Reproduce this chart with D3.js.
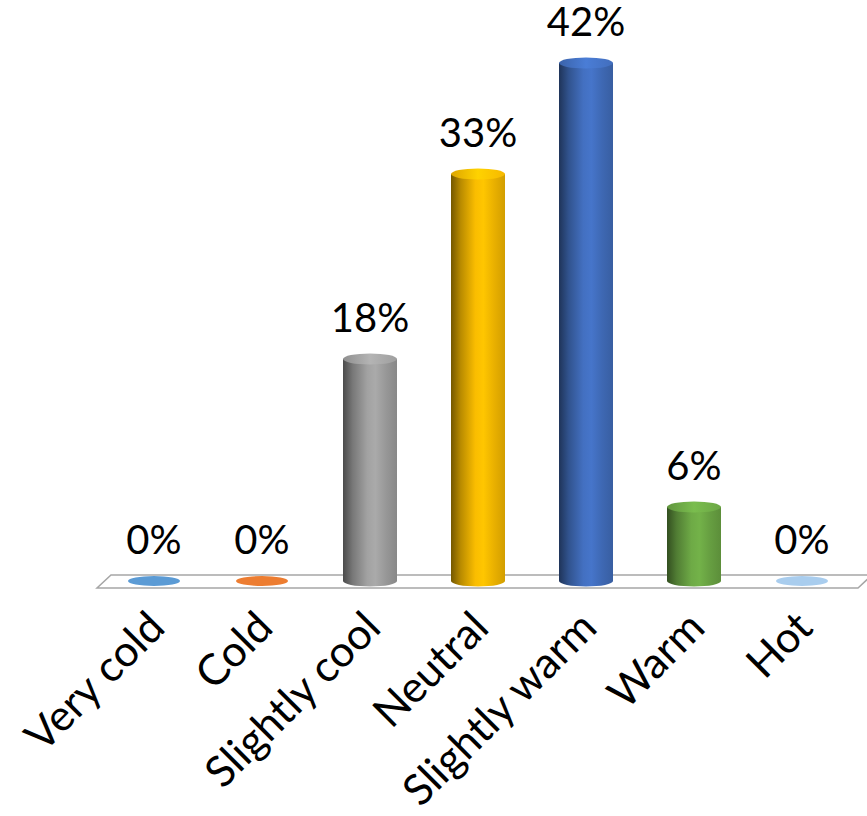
<!DOCTYPE html>
<html>
<head>
<meta charset="utf-8">
<script src="https://cdn.jsdelivr.net/npm/d3@7"></script>
<style>
  html, body { margin: 0; padding: 0; background: #fff; }
  svg { display: block; }
  text { font-family: Lato, "Open Sans", sans-serif; fill: #000; }
</style>
</head>
<body>
<svg id="chart" width="867" height="816"></svg>
<script>
// Thermal sensation votes (% of respondents)
const categories = ["Very cold", "Cold", "Slightly cool", "Neutral", "Slightly warm", "Warm", "Hot"];
const values = [0, 0, 18, 33, 42, 6, 0];
const colors = ["#5b9bd5", "#ed7d31", "#a5a5a5", "#ffc000", "#4472c4", "#70ad47", "#a9cdee"];

const svg = d3.select("#chart");

const x = d3.scalePoint().domain(categories).range([100, 856]).padding(0.5);
const y = d3.scaleLinear().domain([0, 45]).range([581, 26]);

const rx = 27, ry = 5.5;
const base = y(0);

// Floor plane
const floorTop = base - 6, floorBot = base + 7;
svg.append("path")
  .attr("d", `M97,${floorBot} L858,${floorBot} L872,${floorTop} L111,${floorTop} Z`)
  .attr("fill", "#fff")
  .attr("stroke", "#a6a6a6")
  .attr("stroke-width", 1.5);

// Cylinder shading gradients
const defs = svg.append("defs");
colors.forEach((c, i) => {
  const col = d3.color(c);
  const side = defs.append("linearGradient").attr("id", "side" + i)
    .attr("x1", 0).attr("x2", 1).attr("y1", 0).attr("y2", 0);
  [[0, col.darker(2.2)], [0.18, col.darker(0.9)], [0.45, col.darker(0.05)],
   [0.6, col.brighter(0.08)], [0.8, col.darker(0.25)], [1, col.darker(0.55)]]
    .forEach(([o, cc]) => side.append("stop").attr("offset", o).attr("stop-color", cc.formatHex()));
  const top = defs.append("linearGradient").attr("id", "top" + i)
    .attr("x1", 0).attr("x2", 1).attr("y1", 0).attr("y2", 0);
  [[0, col.darker(0.4)], [0.5, col.brighter(0.25)], [1, col.darker(0.1)]]
    .forEach(([o, cc]) => top.append("stop").attr("offset", o).attr("stop-color", cc.formatHex()));
});

const data = categories.map((c, i) => ({ cat: c, v: values[i], i }));

const bars = svg.append("g").selectAll("g").data(data).join("g");

// Cylinder bodies
bars.filter(d => d.v > 0).append("path")
  .attr("d", d => {
    const cx = x(d.cat), t = y(d.v);
    return `M${cx - rx},${t} L${cx - rx},${base} A${rx},${ry} 0 0 0 ${cx + rx},${base} L${cx + rx},${t} Z`;
  })
  .attr("fill", d => `url(#side${d.i})`);

// Cylinder tops (flat disc for zero values)
bars.append("ellipse")
  .attr("cx", d => x(d.cat))
  .attr("cy", d => y(d.v))
  .attr("rx", d => d.v > 0 ? rx : 26)
  .attr("ry", d => d.v > 0 ? ry : 5)
  .attr("fill", d => d.v > 0 ? `url(#top${d.i})` : colors[d.i]);

// Value labels
bars.append("text")
  .attr("x", d => x(d.cat))
  .attr("y", d => y(d.v) - 27)
  .attr("text-anchor", "middle")
  .style("font-size", "40px")
  .text(d => d.v + "%");

// Category labels
svg.append("g").selectAll("text").data(categories).join("text")
  .attr("transform", d => `translate(${x(d) + 13},630) rotate(-45)`)
  .attr("text-anchor", "end")
  .style("font-size", "43px")
  .text(d => d);
</script>
</body>
</html>
